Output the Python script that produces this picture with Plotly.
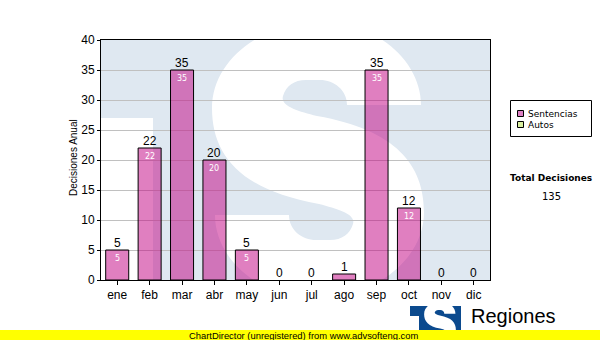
import plotly.graph_objects as go

# ---------------- data ----------------
meses = ["ene", "feb", "mar", "abr", "may", "jun", "jul", "ago", "sep", "oct", "nov", "dic"]
sentencias = [5, 22, 35, 20, 5, 0, 0, 1, 35, 12, 0, 0]
autos = [0, 0, 0, 0, 0, 0, 0, 0, 0, 0, 0, 0]
y_ticks = [0, 5, 10, 15, 20, 25, 30, 35, 40]
serie_nombres = ["Sentencias", "Autos"]
titulo_total = "Total Decisiones"
eje_y_titulo = "Decisiones Anual"

# ---------------- geometry ----------------
W, H = 600, 340
L, R, T, B = 101, 110, 40, 60
PW, PH = W - L - R, H - T - B
YMAX = 40
xs = list(range(len(meses)))


def pxp(x):  # pixel -> paper x
    return (x - L) / PW


def pyp(y):  # pixel -> paper y
    return (H - B - y) / PH


def dx(x):  # pixel -> data x
    return -0.5 + (x - L) / PW * len(meses)


def dy(y):  # pixel -> data y
    return (H - B - y) / PH * YMAX


# S watermark (pixel coords), first half; second half is its point-mirror
CX, CY = 318, 160
half = [
    ("M", [(421, 105)]),
    ("C", [(421, 62), (378, 22), (320, 22)]),
    ("C", [(262, 22), (212, 60), (212, 108)]),
    ("C", [(212, 155), (240, 190), (319, 204)]),
    ("C", [(338, 209), (356, 214), (353, 224)]),
    ("C", [(350, 234), (342, 240), (330, 240)]),
    ("L", [(316, 240)]),
    ("C", [(302, 240), (289, 230), (289, 215)]),
    ("L", [(215, 215)]),
]


def mirror(p):
    return (2 * CX - p[0], 2 * CY - p[1])


def s_path(tx, ty):
    segs = list(half)
    for cmd, pts in half[1:]:
        segs.append((cmd, [mirror(p) for p in pts]))
    out = []
    for cmd, pts in segs:
        out.append(cmd + " " + " ".join("%.4f,%.4f" % (tx(p[0]), ty(p[1])) for p in pts))
    return " ".join(out) + " Z"


shapes = []
# white block (left of watermark)
shapes.append(dict(type="rect", xref="x", yref="y", layer="below",
                   x0=dx(101), x1=dx(153), y0=dy(280), y1=dy(118),
                   fillcolor="white", line=dict(width=0)))
# white S
shapes.append(dict(type="path", xref="x", yref="y", layer="below",
                   path=s_path(dx, dy), fillcolor="white", line=dict(width=0)))

# logo bottom right
shapes.append(dict(type="rect", xref="paper", yref="paper",
                   x0=pxp(410), x1=pxp(461), y0=pyp(334), y1=pyp(306),
                   fillcolor="#0b4a8e", line=dict(width=0)))
shapes.append(dict(type="rect", xref="paper", yref="paper",
                   x0=pxp(410), x1=pxp(419), y0=pyp(334), y1=pyp(316),
                   fillcolor="white", line=dict(width=0)))
sc = 0.15
shapes.append(dict(type="path", xref="paper", yref="paper",
                   path=s_path(lambda x: pxp(440 + (x - CX) * sc), lambda y: pyp(322 + (y - CY) * sc)),
                   fillcolor="white", line=dict(width=0)))
# yellow band
shapes.append(dict(type="rect", xref="paper", yref="paper",
                   x0=pxp(0), x1=pxp(600), y0=pyp(340), y1=pyp(330),
                   fillcolor="#ffff00", line=dict(width=0)))

# legend box
shapes.append(dict(type="rect", xref="paper", yref="paper",
                   x0=pxp(510.5), x1=pxp(591.5), y0=pyp(136.5), y1=pyp(100.5),
                   fillcolor="white", line=dict(color="black", width=1)))
leg_colors = ["rgb(222,128,196)", "rgb(218,240,160)"]
leg_y = [113.5, 124.5]
for c, yy in zip(leg_colors, leg_y):
    shapes.append(dict(type="rect", xref="paper", yref="paper",
                       x0=pxp(517.5), x1=pxp(523.5), y0=pyp(yy + 3), y1=pyp(yy - 3),
                       fillcolor=c, line=dict(color="black", width=1)))

annotations = []
for xi, v in zip(xs, sentencias):
    annotations.append(dict(x=xi, y=v, xref="x", yref="y", text=str(v), showarrow=False,
                            xanchor="center", yanchor="bottom", yshift=-2,
                            font=dict(family="Liberation Sans, Arial", size=12, color="black")))
    if v >= 2:
        annotations.append(dict(x=xi, y=v, xref="x", yref="y", text=str(v), showarrow=False,
                                xanchor="center", yanchor="top", yshift=-2,
                                font=dict(family="DejaVu Sans, Verdana", size=8, color="white")))

for name, yy in zip(serie_nombres, leg_y):
    annotations.append(dict(x=pxp(526), y=pyp(yy), xref="paper", yref="paper", text=name,
                            showarrow=False, xanchor="left", yanchor="middle",
                            font=dict(family="DejaVu Sans, Verdana", size=9, color="black")))

annotations.append(dict(x=pxp(551), y=pyp(178), xref="paper", yref="paper",
                        text="<b>%s</b>" % titulo_total, showarrow=False,
                        xanchor="center", yanchor="middle",
                        font=dict(family="DejaVu Sans, Verdana", size=9, color="black")))
annotations.append(dict(x=pxp(551), y=pyp(196.5), xref="paper", yref="paper",
                        text=str(sum(sentencias) + sum(autos)), showarrow=False,
                        xanchor="center", yanchor="middle",
                        font=dict(family="DejaVu Sans, Verdana", size=10, color="black")))
annotations.append(dict(x=pxp(73), y=pyp(158), xref="paper", yref="paper",
                        text=eje_y_titulo, textangle=-90, showarrow=False,
                        xanchor="center", yanchor="middle",
                        font=dict(family="Liberation Sans, Arial", size=10, color="black")))
annotations.append(dict(x=pxp(469), y=pyp(316), xref="paper", yref="paper",
                        text="Regiones", showarrow=False, xanchor="left", yanchor="middle",
                        font=dict(family="Liberation Sans, Arial", size=20, color="black")))
annotations.append(dict(x=pxp(303), y=pyp(335), xref="paper", yref="paper",
                        text="ChartDirector (unregistered) from www.advsofteng.com",
                        showarrow=False, xanchor="center", yanchor="middle",
                        font=dict(family="Liberation Sans, Arial", size=9.4, color="black")))

line_widths = [1 if v > 0 else 0 for v in sentencias]

fig = go.Figure()
fig.add_trace(go.Bar(x=xs, y=sentencias, width=0.71, name=serie_nombres[0],
                     marker=dict(color="rgba(193,0,129,0.5)",
                                 line=dict(color="black", width=line_widths)),
                     showlegend=False, hoverinfo="skip"))

fig.update_layout(
    width=W, height=H, margin=dict(l=L, r=R, t=T, b=B, pad=0),
    paper_bgcolor="white", plot_bgcolor="#dfe8f1", showlegend=False,
    font=dict(family="Liberation Sans, Arial", size=12, color="black"),
    shapes=shapes, annotations=annotations,
)
fig.update_xaxes(range=[-0.5, len(meses) - 0.5], tickvals=xs, ticktext=meses,
                 ticks="outside", ticklen=4, tickcolor="black",
                 showline=True, linecolor="black", linewidth=1, mirror=True,
                 showgrid=False, zeroline=False,
                 tickfont=dict(family="Liberation Sans, Arial", size=12, color="black"))
fig.update_yaxes(range=[0, YMAX], tickvals=y_ticks, ticks="outside", ticklen=3, tickcolor="black",
                 showline=True, linecolor="black", linewidth=1, mirror=True,
                 showgrid=True, gridcolor="#c0c0c0", gridwidth=1, zeroline=False,
                 tickfont=dict(family="Liberation Sans, Arial", size=12, color="black"))

fig.write_html("out.html")
